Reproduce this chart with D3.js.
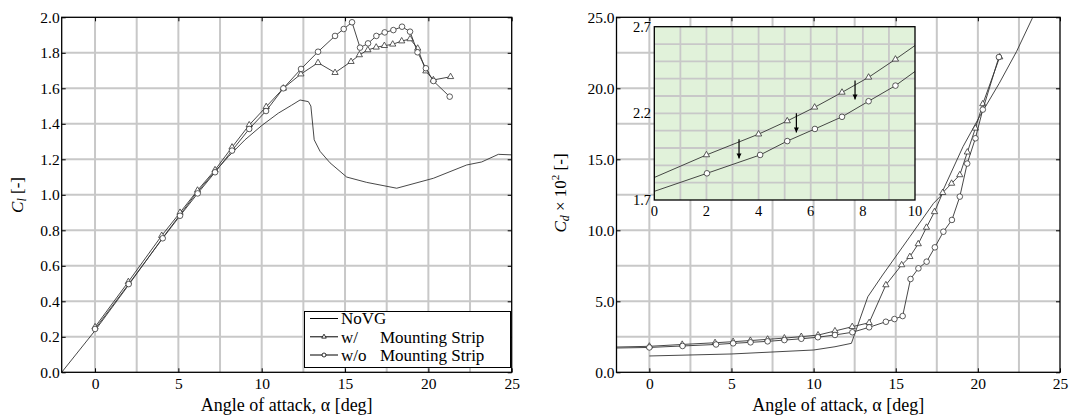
<!DOCTYPE html>
<html><head><meta charset="utf-8">
<script src="https://cdn.jsdelivr.net/npm/d3@7"></script>
<style>body{margin:0;background:#fff}text{font-family:"Liberation Serif",serif}</style>
</head><body>
<svg id="c" width="1069" height="418"></svg>
<script>
// ---------- DATA ----------
const xTickLabels = [0, 5, 10, 15, 20, 25];
const xGrid = [0, 2.5, 5, 7.5, 10, 12.5, 15, 17.5, 20, 22.5];
const clTicks = [0, 0.2, 0.4, 0.6, 0.8, 1.0, 1.2, 1.4, 1.6, 1.8, 2.0];
const cdTicks = [0, 5, 10, 15, 20, 25];
const cdGrid = [2.5, 5, 7.5, 10, 12.5, 15, 17.5, 20, 22.5];
const insetXTicks = [0, 2, 4, 6, 8, 10];
const insetXGrid = [1, 2, 3, 4, 5, 6, 7, 8, 9];
const insetYTicks = [1.7, 2.2, 2.7];
const insetYGrid = [1.8, 1.9, 2.0, 2.1, 2.2, 2.3, 2.4, 2.5, 2.6];
const legendLabels = ["NoVG", "w/", "w/o"];
const legendSuffix = ["", "Mounting Strip", "Mounting Strip"];

// NoVG (baseline, no markers)
const alphaNoVG_cl = [-2, 0, 2, 4, 6, 7, 8, 9, 10, 11, 11.8, 12.3, 12.8, 12.95, 13.15, 13.5, 14.1, 15.1, 16.3, 18.1, 20.3, 22.3, 23.2, 24.2, 25];
const clNoVG = [0, 0.235, 0.49, 0.75, 1.0, 1.11, 1.215, 1.31, 1.39, 1.46, 1.505, 1.534, 1.525, 1.50, 1.31, 1.245, 1.18, 1.10, 1.07, 1.037, 1.093, 1.168, 1.185, 1.228, 1.225];
const alphaNoVG_cd = [0, 5, 10, 11.3, 12.3, 13.3, 14.2, 15.86, 17.3, 17.7, 19.1, 20.1, 21.3, 22.35, 23.3, 24];
const cdNoVG = [1.15, 1.29, 1.57, 1.80, 2.04, 5.32, 6.85, 9.55, 11.9, 12.37, 15.9, 18.0, 20.35, 22.58, 24.9, 26.5];

// w/ Mounting Strip (triangles)
const alphaW = [0, 2, 4, 5.1, 6.15, 7.2, 8.22, 9.25, 10.27, 11.3, 12.35, 13.38, 14.4, 15.36, 15.86, 16.37, 16.87, 17.36, 17.86, 18.4, 18.9, 19.36, 19.85, 20.3, 21.33];
const clW = [0.255, 0.51, 0.77, 0.90, 1.025, 1.14, 1.268, 1.393, 1.496, 1.60, 1.68, 1.744, 1.688, 1.75, 1.788, 1.816, 1.831, 1.840, 1.848, 1.866, 1.878, 1.825, 1.697, 1.647, 1.665];
const cdW = [1.83, 1.96, 2.08, 2.156, 2.235, 2.321, 2.408, 2.512, 2.62, 2.91, 3.21, 3.49, 6.15, 7.56, 8.14, 9.04, 10.2, 11.3, 12.65, 13.3, 13.9, 15.5, 17.18, 18.9, 22.2];

// w/o Mounting Strip (circles)
const alphaWo = [0, 2.02, 4.06, 5.1, 6.16, 7.2, 8.22, 9.25, 10.26, 11.3, 12.36, 13.38, 14.4, 14.92, 15.42, 15.9, 16.38, 16.88, 17.38, 17.9, 18.42, 18.9, 19.35, 19.85, 20.3, 21.28];
const clWo = [0.244, 0.497, 0.755, 0.882, 1.008, 1.127, 1.249, 1.371, 1.472, 1.60, 1.709, 1.806, 1.895, 1.934, 1.972, 1.829, 1.853, 1.895, 1.915, 1.928, 1.947, 1.919, 1.803, 1.713, 1.641, 1.553];
const cdWo = [1.75, 1.854, 1.96, 2.04, 2.11, 2.18, 2.27, 2.36, 2.47, 2.63, 2.82, 3.17, 3.56, 3.75, 3.96, 6.57, 7.32, 7.79, 8.8, 9.9, 10.73, 12.37, 14.7, 16.48, 18.5, 22.2];

// drag lines continue to the left edge (no marker there)
const cdLeadAlpha = [-2];
const cdLeadW = [1.78];
const cdLeadWo = [1.71];

// arrows in the inset: alpha, from, to
const arrowAlpha = [3.25, 5.45, 7.7];
const arrowFrom = [2.05, 2.20, 2.39];
const arrowTo = [1.94, 2.09, 2.28];

// ---------- LAYOUT ----------
const svg = d3.select("#c");
const FONT = "Liberation Serif";
const LINE = "#333";
const GRID = "#c8c8c8";
const TICKFS = 15.5;

const xL = d3.scaleLinear([-2, 25], [61.7, 511.7]);
const yL = d3.scaleLinear([0, 2], [372.3, 17.3]);
const xR = d3.scaleLinear([-2, 25], [616.5, 1060]);
const yR = d3.scaleLinear([0, 25], [372.3, 17.3]);
const xI = d3.scaleLinear([0, 10], [654.3, 915]);
const yI = d3.scaleLinear([1.7, 2.7], [200, 26.7]);

const defs = svg.append("defs");
function clip(id, x, y) {
  defs.append("clipPath").attr("id", id).append("rect")
    .attr("x", x.range()[0]).attr("y", y.range()[1])
    .attr("width", x.range()[1] - x.range()[0]).attr("height", y.range()[0] - y.range()[1]);
}
clip("clipL", xL, yL); clip("clipR", xR, yR); clip("clipI", xI, yI);
defs.append("marker").attr("id", "arr").attr("viewBox", "0 0 10 10")
  .attr("refX", 10).attr("refY", 5).attr("markerWidth", 5).attr("markerHeight", 6)
  .attr("markerUnits", "userSpaceOnUse").attr("orient", "auto")
  .append("path").attr("d", "M0,0L10,5L0,10z").attr("fill", "#000");

function grid(g, x, y, xs, ys, w) {
  const [y0, y1] = y.range(), [x0, x1] = x.range();
  g.selectAll(null).data(xs).join("line")
    .attr("x1", d => x(d)).attr("x2", d => x(d)).attr("y1", y0).attr("y2", y1)
    .attr("stroke", GRID).attr("stroke-width", w);
  g.selectAll(null).data(ys).join("line")
    .attr("y1", d => y(d)).attr("y2", d => y(d)).attr("x1", x0).attr("x2", x1)
    .attr("stroke", GRID).attr("stroke-width", w);
}

function axes(g, x, y, xt, yt, yfmt) {
  const [y0, y1] = y.range(), [x0, x1] = x.range();
  const style = a => { a.select(".domain").remove(); a.attr("font-family", FONT).attr("font-size", TICKFS); a.selectAll("text").attr("fill", "#000"); };
  g.append("g").attr("transform", `translate(0,${y0})`)
    .call(d3.axisBottom(x).tickValues(xt).tickFormat(d3.format("d")).tickSizeInner(-4).tickSizeOuter(0).tickPadding(6)).call(style);
  g.append("g").attr("transform", `translate(${x0},0)`)
    .call(d3.axisLeft(y).tickValues(yt).tickFormat(yfmt).tickSizeInner(-4).tickSizeOuter(0).tickPadding(2)).call(style);
  g.append("g").attr("transform", `translate(0,${y1})`)
    .call(d3.axisTop(x).tickValues(xt).tickFormat(() => "").tickSizeInner(-4).tickSizeOuter(0)).call(style);
  g.append("g").attr("transform", `translate(${x1},0)`)
    .call(d3.axisRight(y).tickValues(yt).tickFormat(() => "").tickSizeInner(-4).tickSizeOuter(0)).call(style);
  g.append("rect").attr("x", x0).attr("y", y1).attr("width", x1 - x0).attr("height", y0 - y1)
    .attr("fill", "none").attr("stroke", "#000").attr("stroke-width", 1.3);
}

const tri = d3.symbol(d3.symbolTriangle, 17)();
const triSmall = d3.symbol(d3.symbolTriangle, 9)();

function series(g, x, y, pts, kind, markerFilter) {
  g.append("path").datum(pts).attr("d", d3.line().x(d => x(d[0])).y(d => y(d[1])))
    .attr("fill", "none").attr("stroke", LINE).attr("stroke-width", 0.9);
  if (!kind) return;
  const m = pts.filter(markerFilter || (() => true));
  if (kind === "c") {
    g.selectAll(null).data(m).join("circle").attr("cx", d => x(d[0])).attr("cy", d => y(d[1])).attr("r", 2.8)
      .attr("fill", "#fff").attr("stroke", LINE).attr("stroke-width", 0.8);
  } else {
    g.selectAll(null).data(m).join("path").attr("d", tri)
      .attr("transform", d => `translate(${x(d[0])},${y(d[1])})`)
      .attr("fill", "#fff").attr("stroke", LINE).attr("stroke-width", 0.8);
  }
}

// ---------- LEFT: Cl ----------
const gL = svg.append("g");
grid(gL, xL, yL, xGrid, clTicks.slice(1, -1), 2);
const dL = gL.append("g").attr("clip-path", "url(#clipL)");
series(dL, xL, yL, d3.zip(alphaNoVG_cl, clNoVG), null);
series(dL, xL, yL, d3.zip(alphaW, clW), "t");
series(dL, xL, yL, d3.zip(alphaWo, clWo), "c");
axes(gL, xL, yL, xTickLabels, clTicks, d3.format(".1f"));

// legend
const lg = gL.append("g");
lg.append("rect").attr("x", 304.5).attr("y", 311.5).attr("width", 206).attr("height", 56)
  .attr("fill", "#fff").attr("stroke", "#000").attr("stroke-width", 1);
const rowY = [318.5, 336.8, 355];
legendLabels.forEach((lab, i) => {
  const yy = rowY[i];
  lg.append("line").attr("x1", 310).attr("x2", 338).attr("y1", yy).attr("y2", yy).attr("stroke", "#000").attr("stroke-width", 1);
  if (i === 1) lg.append("path").attr("d", triSmall).attr("transform", `translate(324,${yy})`).attr("fill", "#fff").attr("stroke", "#000").attr("stroke-width", 0.8);
  if (i === 2) lg.append("circle").attr("cx", 324).attr("cy", yy).attr("r", 2).attr("fill", "#fff").attr("stroke", "#000").attr("stroke-width", 0.8);
  const t = lg.append("text").attr("y", yy).attr("dy", "0.34em").attr("font-size", 17).attr("fill", "#000");
  t.append("tspan").attr("x", 341).text(lab);
  if (legendSuffix[i]) t.append("tspan").attr("x", 380).text(legendSuffix[i]);
});

// titles
svg.append("text").attr("x", (xL.range()[0] + xL.range()[1]) / 2).attr("y", 411).attr("text-anchor", "middle")
  .attr("font-size", 18).attr("fill", "#000").text("Angle of attack, α [deg]");
svg.append("text").attr("x", (xR.range()[0] + xR.range()[1]) / 2).attr("y", 411).attr("text-anchor", "middle")
  .attr("font-size", 18).attr("fill", "#000").text("Angle of attack, α [deg]");

const tl = svg.append("text").attr("transform", "translate(23,195) rotate(-90)").attr("text-anchor", "middle")
  .attr("font-size", 17).attr("fill", "#000");
tl.append("tspan").attr("font-style", "italic").text("C");
tl.append("tspan").attr("font-style", "italic").attr("font-size", 12).attr("dy", 3).text("l");
tl.append("tspan").attr("dy", -3).text(" [-]");

const tr = svg.append("text").attr("transform", "translate(566,193) rotate(-90)").attr("text-anchor", "middle")
  .attr("font-size", 17).attr("fill", "#000");
tr.append("tspan").attr("font-style", "italic").text("C");
tr.append("tspan").attr("font-style", "italic").attr("font-size", 12).attr("dy", 3).text("d");
tr.append("tspan").attr("dy", -3).text(" × 10");
tr.append("tspan").attr("font-size", 11).attr("dy", -7).text("2");
tr.append("tspan").attr("dy", 7).text(" [-]");

// ---------- RIGHT: Cd ----------
const gR = svg.append("g");
grid(gR, xR, yR, xGrid, cdGrid, 2);
const dR = gR.append("g").attr("clip-path", "url(#clipR)");
const ptsW = d3.zip(cdLeadAlpha, cdLeadW).concat(d3.zip(alphaW, cdW));
const ptsWo = d3.zip(cdLeadAlpha, cdLeadWo).concat(d3.zip(alphaWo, cdWo));
series(dR, xR, yR, d3.zip(alphaNoVG_cd, cdNoVG), null);
series(dR, xR, yR, ptsW, "t", d => d[0] >= 0);
series(dR, xR, yR, ptsWo, "c", d => d[0] >= 0);
axes(gR, xR, yR, xTickLabels, cdTicks, d3.format(".1f"));

// ---------- INSET ----------
const gI = svg.append("g");
gI.append("rect").attr("x", xI.range()[0]).attr("y", yI.range()[1])
  .attr("width", xI.range()[1] - xI.range()[0]).attr("height", yI.range()[0] - yI.range()[1])
  .attr("fill", "#e1f2da");
grid(gI, xI, yI, insetXGrid, insetYGrid, 1.8);
const dI = gI.append("g").attr("clip-path", "url(#clipI)");
series(dI, xI, yI, ptsW.filter(d => d[0] >= 0 && d[0] < 11), "t", d => d[0] > 0.5 && d[0] < 10);
series(dI, xI, yI, ptsWo.filter(d => d[0] >= 0 && d[0] < 11), "c", d => d[0] > 0.5 && d[0] < 10);
arrowAlpha.forEach((a, i) => {
  dI.append("line").attr("x1", xI(a)).attr("x2", xI(a)).attr("y1", yI(arrowFrom[i])).attr("y2", yI(arrowTo[i]))
    .attr("stroke", "#000").attr("stroke-width", 1.2).attr("marker-end", "url(#arr)");
});
gI.append("rect").attr("x", xI.range()[0]).attr("y", yI.range()[1])
  .attr("width", xI.range()[1] - xI.range()[0]).attr("height", yI.range()[0] - yI.range()[1])
  .attr("fill", "none").attr("stroke", "#000").attr("stroke-width", 1.3);
gI.selectAll(null).data(insetXTicks).join("text")
  .attr("x", d => xI(d)).attr("y", 216).attr("text-anchor", "middle").attr("font-size", 14.5).attr("fill", "#000")
  .text(d3.format("d"));
gI.selectAll(null).data(insetYTicks).join("text")
  .attr("x", 651).attr("y", d => yI(d)).attr("dy", "0.34em").attr("text-anchor", "end").attr("font-size", 14.5).attr("fill", "#000")
  .text(d3.format(".1f"));
</script>
</body></html>
